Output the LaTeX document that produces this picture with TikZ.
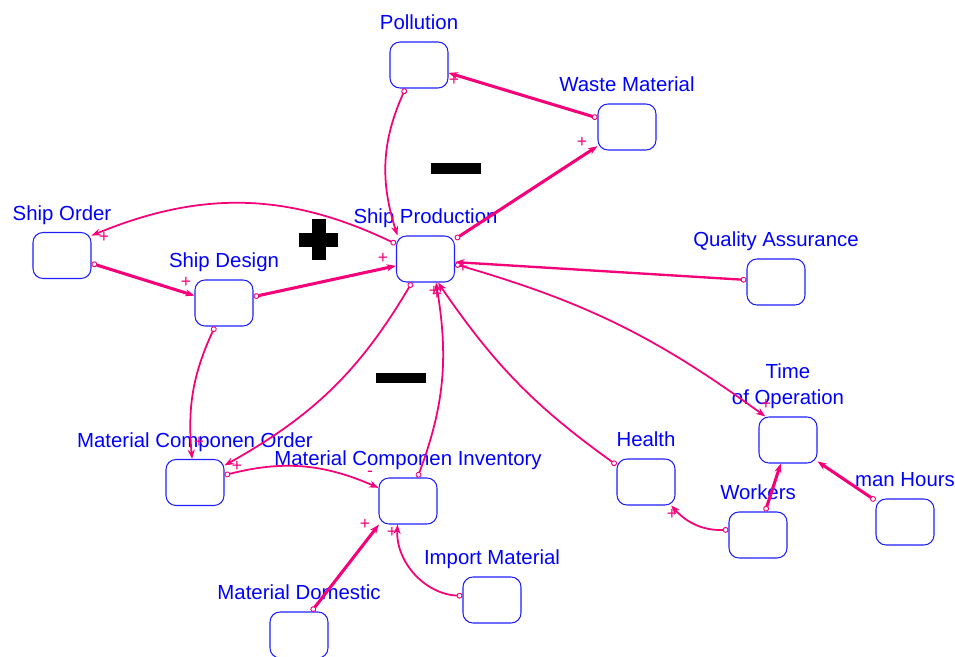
\documentclass[tikz,border=0pt]{standalone}
\usepackage{fontspec}
\setmainfont{Liberation Sans}
\usetikzlibrary{positioning}
\usetikzlibrary{arrows.meta}
\definecolor{linkpink}{RGB}{245,0,120}
\definecolor{boxblue}{RGB}{30,30,255}

\begin{document}
\begin{tikzpicture}[x=0.03cm,y=0.03cm,
 var/.style={draw=boxblue,line width=0.9pt,rounded corners=0.3cm,minimum width=1.74cm,minimum height=1.38cm,inner sep=0pt},
 lbl/.style={text=blue,font=\fontsize{17.4}{22}\selectfont,inner sep=0pt,text depth=0pt,align=center},
 link/.style={draw=linkpink,line width=1.5pt,{Circle[open,length=5pt,line width=0.8pt]}-{Stealth[length=8pt,width=6pt]}},
 strong/.style={link,line width=2.6pt},
 sgn/.style={text=linkpink,font=\fontsize{15}{15}\selectfont,inner sep=0pt}]
 \useasboundingbox (0,0) rectangle (955,-657);
 % variables
 \node[var] (pollution) at (419,-65) {};
 \node[var] (waste) at (627,-127) {};
 \node[var] (prod) at (425.5,-259) {};
 \node[var] (order) at (62,-255.5) {};
 \node[var] (design) at (224,-303) {};
 \node[var] (qa) at (776,-282) {};
 \node[var] (timeop) at (788,-440) {};
 \node[var] (mco) at (195,-482.5) {};
 \node[var] (mci) at (408,-501) {};
 \node[var] (health) at (646,-482) {};
 \node[var] (workers) at (758,-535) {};
 \node[var] (manh) at (905,-522) {};
 \node[var] (import) at (492,-600) {};
 \node[var] (domestic) at (299,-635) {};
 % names
 \node[lbl,above=10pt of pollution] (pollutionL) {Pollution};
 \node[lbl,above=10pt of waste] (wasteL) {Waste Material};
 \node[lbl,above=10pt of prod] (prodL) {Ship Production};
 \node[lbl,above=10pt of order] (orderL) {Ship Order};
 \node[lbl,above=10pt of design] (designL) {Ship Design};
 \node[lbl,above=10pt of qa] (qaL) {Quality Assurance};
 \node[lbl,above=10pt of timeop] (timeopL) {Time\\of Operation};
 \node[lbl,above=10pt of mco] (mcoL) {Material Componen Order};
 \node[lbl,above=10pt of mci] (mciL) {Material Componen Inventory};
 \node[lbl,above=10pt of health] (healthL) {Health};
 \node[lbl,above=10pt of workers] (workersL) {Workers};
 \node[lbl,above=10pt of manh] (manhL) {man Hours};
 \node[lbl,above=10pt of import] (importL) {Import Material};
 \node[lbl,above=10pt of domestic] (domesticL) {Material Domestic};
 % loop signs
 \fill (431,-163) rectangle (481,-174);
 \fill (376,-373) rectangle (426,-383);
 \fill (312,-219) rectangle (326,-260);
 \fill (299,-233) rectangle (338,-247);
 % links
 \draw[strong] (waste.163) -- (pollution.-15);
 \draw[strong] (prod.34) -- (waste.213);
 \draw[link] (pollution.240) to[bend right=21] (prod.140);
 \draw[link] (prod.153) to[bend right=24] (order.34);
 \draw[strong] (order.-15) -- (design.166);
 \draw[strong] (design.12) -- (prod.193);
 \draw[link,line width=2pt] (qa.176) -- (prod.-6);
 \draw[link] (prod.-10) to[bend left=10] (timeop.134);
 \draw[link] (prod.240) to[bend left=15] (mco.30);
 \draw[link] (design.249) to[bend right=15] (mco.97);
 \draw[link] (mco.14) to[bend left=19] (mci.156);
 \draw[link] (mci.68) to[bend right=15] (prod.-66);
 \draw[link] (health.150) to[bend left=10] (prod.-62);
 \draw[link] (workers.170) to[bend left=25] (health.-43);
 \draw[strong] (workers.73) -- (timeop.253);
 \draw[strong] (manh.144) -- (timeop.-36);
 \draw[strong] (domestic.62) -- (mci.219);
 \draw[link] (import.172) to[bend left=45] (mci.246);
 % link signs
 \node[sgn] (s1) at (454,-80) {+};
 \node[sgn] (s2) at (582,-142) {+};
 \node[sgn] (s3) at (104,-237) {+};
 \node[sgn] (s4) at (186,-282) {+};
 \node[sgn] (s5) at (383,-258) {+};
 \node[sgn] (s6) at (463,-267) {+};
 \node[sgn] (s7) at (766,-404) {+};
 \node[sgn] (s8) at (237,-466) {+};
 \node[sgn] (s9) at (199,-442) {+};
 \node[sgn] (s10) at (370,-474) {-};
 \node[sgn] (s11) at (434,-291) {+};
 \node[sgn] (s12) at (437,-294) {+};
 \node[sgn] (s13) at (672,-514) {+};
 \node[sgn] (s14) at (365,-524) {+};
 \node[sgn] (s15) at (392,-532) {+};
\end{tikzpicture}
\end{document}
